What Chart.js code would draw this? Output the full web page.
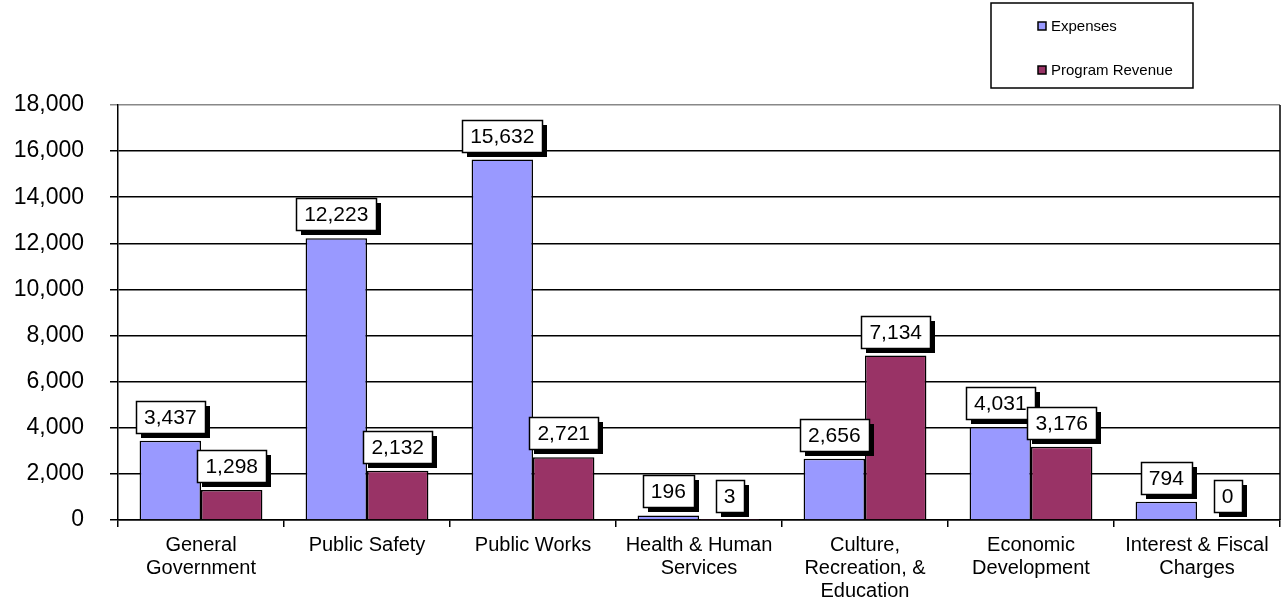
<!DOCTYPE html>
<html>
<head>
<meta charset="utf-8">
<script src="https://cdn.jsdelivr.net/npm/chart.js@4/dist/chart.umd.min.js"></script>
<style>
html,body{margin:0;padding:0;background:#fff;}
#wrap{width:1286px;height:609px;position:relative;}
</style>
</head>
<body>
<div id="wrap"><canvas id="c" width="1286" height="609"></canvas></div>
<script>
const categories = [
  ["General", "Government"],
  ["Public Safety"],
  ["Public Works"],
  ["Health & Human", "Services"],
  ["Culture,", "Recreation, &", "Education"],
  ["Economic", "Development"],
  ["Interest & Fiscal", "Charges"]
];
const expenses = [3437, 12223, 15632, 196, 2656, 4031, 794];
const programRevenue = [1298, 2132, 2721, 3, 7134, 3176, 0];
const seriesNames = ["Expenses", "Program Revenue"];
const yTicks = [0, 2000, 4000, 6000, 8000, 10000, 12000, 14000, 16000, 18000];

const FONT = '"Liberation Sans", Arial, sans-serif';

const labelPlugin = {
  id: 'boxLabels',
  afterDatasetsDraw(chart) {
    const ctx = chart.ctx;
    ctx.save();
    ctx.font = '21px ' + FONT;
    ctx.textAlign = 'center';
    ctx.textBaseline = 'middle';
    chart.data.datasets.forEach((ds, di) => {
      const meta = chart.getDatasetMeta(di);
      meta.data.forEach((el, i) => {
        const txt = ds.data[i].toLocaleString('en-US');
        const w = Math.round(ctx.measureText(txt).width + 16);
        const h = 32;
        const x = Math.round(el.x - w / 2);
        const y = Math.round(el.y - 8 - h);
        ctx.fillStyle = '#000';
        ctx.fillRect(x + 5, y + 5, w, h);
        ctx.fillStyle = '#fff';
        ctx.fillRect(x, y, w, h);
        ctx.strokeStyle = '#000';
        ctx.lineWidth = 1.5;
        ctx.strokeRect(x + 0.5, y + 0.5, w, h);
        ctx.fillStyle = '#000';
        ctx.fillText(txt, el.x, y + h / 2 + 1);
      });
    });
    ctx.restore();
  }
};

const framePlugin = {
  id: 'frame',
  afterDraw(chart) {
    const ctx = chart.ctx;
    const a = chart.chartArea;
    ctx.save();
    ctx.strokeStyle = '#000';
    ctx.lineWidth = 1.5;
    ctx.beginPath();
    ctx.moveTo(a.right, a.top);
    ctx.lineTo(a.right, a.bottom);
    ctx.stroke();
    // legend
    const lx = 991, ly = 3, lw = 202, lh = 85;
    ctx.lineWidth = 1.5;
    ctx.strokeRect(lx, ly, lw, lh);
    ctx.font = '15px ' + FONT;
    ctx.textBaseline = 'middle';
    ctx.textAlign = 'left';
    const ys = [26, 70];
    chart.data.datasets.forEach((ds, i) => {
      ctx.fillStyle = ds.backgroundColor;
      ctx.fillRect(1038, ys[i] - 4, 8, 8);
      ctx.lineWidth = 1.5;
      ctx.strokeStyle = '#000';
      ctx.strokeRect(1038, ys[i] - 4, 8, 8);
      ctx.fillStyle = '#000';
      ctx.fillText(ds.label, 1051, ys[i] + 1);
    });
    ctx.restore();
  }
};

new Chart(document.getElementById('c'), {
  type: 'bar',
  data: {
    labels: categories,
    datasets: [
      { label: seriesNames[0], data: expenses, backgroundColor: '#9999FF', borderColor: '#000', borderWidth: 1.5 },
      { label: seriesNames[1], data: programRevenue, backgroundColor: '#993366', borderColor: '#000', borderWidth: 1.5 }
    ]
  },
  options: {
    responsive: false,
    animation: false,
    events: [],
    categoryPercentage: 0.74,
    barPercentage: 1.0,
    layout: { padding: { top: 105, right: 6, left: 0, bottom: 0 } },
    plugins: { legend: { display: false }, tooltip: { enabled: false } },
    scales: {
      x: {
        offset: true,
        grid: { offset: true, drawOnChartArea: false, drawTicks: true, tickLength: 7, color: '#000', lineWidth: 1.5 },
        border: { color: '#000', width: 1.5 },
        ticks: { color: '#000', font: { family: FONT, size: 20, lineHeight: 1.15 }, maxRotation: 0, autoSkip: false, padding: 7 },
        afterFit(scale) { scale.height = 89; }
      },
      y: {
        min: 0,
        max: 18000,
        afterBuildTicks(scale) { scale.ticks = yTicks.map(v => ({ value: v })); },
        grid: {
          color: (c) => (c.tick && c.tick.value === 18000) ? '#888' : '#000',
          lineWidth: 1.5,
          tickLength: 8
        },
        border: { color: '#000', width: 1.5 },
        ticks: {
          color: '#000',
          font: { family: FONT, size: 23 },
          padding: 26,
          callback: (v) => Number(v).toLocaleString('en-US')
        },
        afterFit(scale) { scale.width = 118; }
      }
    }
  },
  plugins: [labelPlugin, framePlugin]
});
</script>
</body>
</html>
